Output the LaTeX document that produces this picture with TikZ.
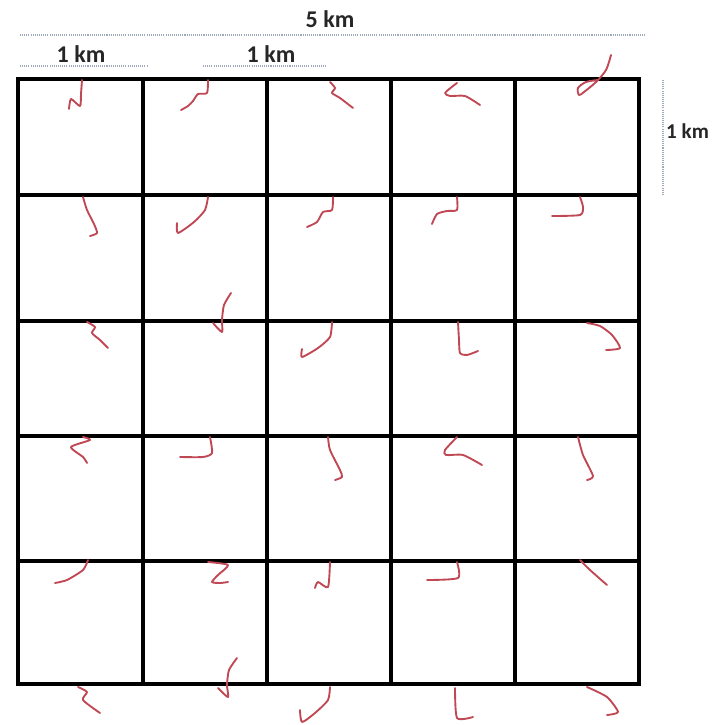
\documentclass[tikz,border=0pt]{standalone}
\usepackage{fontspec}
\setmainfont{Carlito}
\usepackage{xcolor}
\definecolor{roadred}{RGB}{192, 72, 84}
\definecolor{dimgray}{RGB}{158, 170, 186}
\usepackage{tikz}
\usetikzlibrary{positioning}

\begin{document}
\begin{tikzpicture}[
    x=0.03cm, y=-0.03cm,
    gridline/.style={draw=black, line width=2.9pt, line cap=rect},
    dimline/.style={draw=dimgray, line width=1.3pt, dash pattern=on 0.9pt off 0.9pt},
    dimlabel/.style={font=\fontsize{20.5}{24}\selectfont\bfseries, inner sep=0pt, text=black!85},
    road/.style={draw=roadred, line width=1.6pt, line cap=round, line join=round}
]
\useasboundingbox (0,0) rectangle (712,725);

% ==================== SCALE MARKS ====================
\node[dimlabel, anchor=base] (five_km) at (330,27) {5 km};
\draw[dimline] (20,35) -- (645,35);

\node[dimlabel, anchor=base] (one_km_a) at (81,62) {1 km};
\draw[dimline] (20,66) -- (147,66);

\node[dimlabel, anchor=base] (one_km_b) at (271,62) {1 km};
\draw[dimline] (203,66) -- (327,66);

\draw[dimline] (663,80) -- (663,195);
\node[dimlabel, font=\fontsize{18}{22}\selectfont\bfseries, anchor=west] (one_km_c) at (666,131) {1 km};

% ==================== 5 x 5 GRID ====================
\foreach \gx in {18,143,267,391,515,639}
    \draw[gridline] (\gx,79) -- (\gx,684);
\foreach \gy in {79,195,321,436,561,684}
    \draw[gridline] (18,\gy) -- (639,\gy);

% ==================== ROAD SEGMENTS ====================
% row 1
\draw[road] plot[smooth, tension=0.4] coordinates {(82,80) (81,94) (80,106) (71,99) (69,109)};
\draw[road] plot[smooth, tension=0.4] coordinates {(208,80) (207,93) (198,94) (193,101) (188,106) (181,110)};
\draw[road] plot[smooth, tension=0.4] coordinates {(330,82) (335,88) (332,93) (340,98) (353,108)};
\draw[road] plot[smooth, tension=0.4] coordinates {(457,83) (453,86) (445,93) (450,96) (465,96) (480,105)};
\draw[road] plot[smooth, tension=0.5] coordinates {(611,55) (606,70) (596,82) (584,92) (579,95) (578,88) (586,82) (598,80)};

% row 2
\draw[road] plot[smooth, tension=0.4] coordinates {(83,197) (87,210) (94,224) (97,233) (90,236)};
\draw[road] plot[smooth, tension=0.4] coordinates {(208,197) (205,210) (194,222) (178,233) (177,223)};
\draw[road] plot[smooth, tension=0.4] coordinates {(333,197) (332,210) (323,212) (317,222) (307,227)};
\draw[road] plot[smooth, tension=0.4] coordinates {(457,197) (457,210) (447,211) (437,214) (432,224)};
\draw[road] plot[smooth, tension=0.4] coordinates {(580,197) (583,207) (580,215) (552,216)};
\draw[road] plot[smooth, tension=0.4] coordinates {(231,293) (224,305) (222,320) (222,332) (213,323)};

% row 3
\draw[road] plot[smooth, tension=0.4] coordinates {(87,322) (95,327) (92,333) (100,340) (108,348)};
\draw[road] plot[smooth, tension=0.4] coordinates {(332,322) (330,337) (318,348) (302,357) (302,349)};
\draw[road] plot[smooth, tension=0.4] coordinates {(458,322) (459,340) (460,353) (467,355) (478,351)};
\draw[road] plot[smooth, tension=0.4] coordinates {(587,323) (600,326) (612,335) (620,348) (606,350)};

% row 4
\draw[road] plot[smooth, tension=0.4] coordinates {(83,437) (90,440) (71,447) (83,457) (87,463)};
\draw[road] plot[smooth, tension=0.4] coordinates {(210,437) (212,453) (203,457) (180,457)};
\draw[road] plot[smooth, tension=0.4] coordinates {(328,437) (330,450) (340,470) (342,477) (335,480)};
\draw[road] plot[smooth, tension=0.4] coordinates {(457,437) (445,450) (446,455) (463,455) (482,465)};
\draw[road] plot[smooth, tension=0.4] coordinates {(578,437) (583,455) (593,476) (587,480)};

% row 5
\draw[road] plot[smooth, tension=0.4] coordinates {(88,560) (83,570) (67,580) (55,583)};
\draw[road] plot[smooth, tension=0.4] coordinates {(208,562) (228,565) (218,575) (212,582) (220,583) (228,582)};
\draw[road] plot[smooth, tension=0.4] coordinates {(330,562) (328,587) (318,582) (315,588)};
\draw[road] plot[smooth, tension=0.4] coordinates {(457,562) (458,578) (427,580)};
\draw[road] plot[smooth, tension=0.4] coordinates {(580,560) (590,570) (607,585)};
\draw[road] plot[smooth, tension=0.4] coordinates {(237,658) (229,670) (227,685) (228,697) (218,688)};

% below the grid
\draw[road] plot[smooth, tension=0.4] coordinates {(78,687) (87,692) (83,700) (100,713)};
\draw[road] plot[smooth, tension=0.4] coordinates {(330,687) (328,700) (315,713) (302,722) (300,710)};
\draw[road] plot[smooth, tension=0.4] coordinates {(455,688) (457,718) (473,717)};
\draw[road] plot[smooth, tension=0.4] coordinates {(587,687) (607,697) (618,712) (607,715)};

\end{tikzpicture}
\end{document}
